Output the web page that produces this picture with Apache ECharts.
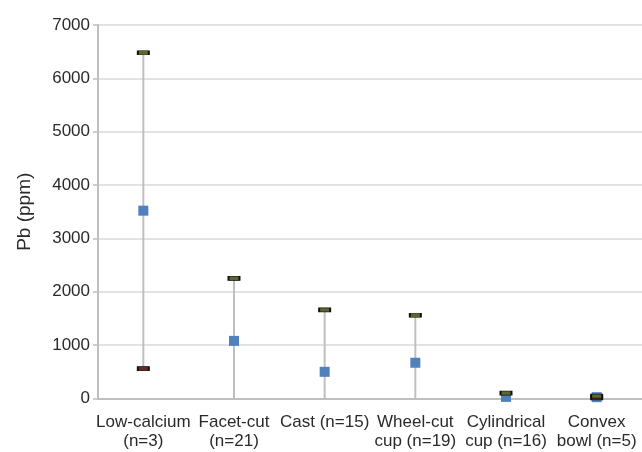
<!DOCTYPE html>
<html><head><meta charset="utf-8">
<script src="https://cdn.jsdelivr.net/npm/echarts@6/dist/echarts.min.js"></script>
<style>html,body{margin:0;padding:0;background:#fff}#c{width:642px;height:452px}</style>
</head><body><div id="c"></div>
<script>
const categories = ['Low-calcium\n(n=3)', 'Facet-cut\n(n=21)', 'Cast (n=15)', 'Wheel-cut\ncup (n=19)', 'Cylindrical\ncup (n=16)', 'Convex\nbowl (n=5)'];
const maxVals = [6480, 2250, 1660, 1560, 100, 45];
const meanVals = [3520, 1080, 500, 670, 30, 25];
const minVals = [560, null, null, null, null, 10];
const yTicks = [0, 1000, 2000, 3000, 4000, 5000, 6000, 7000];

const FONT = '"Liberation Sans", Arial, sans-serif';
const chart = echarts.init(document.getElementById('c'));
chart.setOption({
  animation: false,
  grid: { left: 98, right: -2.4, top: 25, bottom: 53.5 },
  xAxis: {
    type: 'category', data: categories,
    axisLine: { lineStyle: { color: '#bfbfbf', width: 2 } },
    axisTick: { show: false },
    axisLabel: { color: '#2a2a2a', fontFamily: FONT, fontSize: 17, lineHeight: 19, margin: 14, interval: 0 }
  },
  yAxis: {
    type: 'value', min: yTicks[0], max: yTicks[yTicks.length - 1], interval: 1000,
    name: 'Pb (ppm)', nameLocation: 'middle', nameGap: 64,
    nameTextStyle: { color: '#2a2a2a', fontFamily: FONT, fontSize: 19 },
    axisLine: { show: true, lineStyle: { color: '#bfbfbf', width: 2 } },
    axisTick: { show: true, length: 5, lineStyle: { color: '#bfbfbf', width: 1.5 } },
    axisLabel: { color: '#2a2a2a', fontFamily: FONT, fontSize: 17, margin: 8, formatter: v => String(v) },
    splitLine: { lineStyle: { color: '#d9d9d9', width: 1.5 } }
  },
  series: [
    {
      type: 'custom', z: 1,
      renderItem: function (params, api) {
        const i = api.value(0);
        const lo = minVals[i] == null ? 0 : minVals[i];
        const p1 = api.coord([i, lo]);
        const p2 = api.coord([i, maxVals[i]]);
        return { type: 'line', shape: { x1: p1[0], y1: p1[1], x2: p2[0], y2: p2[1] },
                 style: { stroke: '#bfbfbf', lineWidth: 2 } };
      },
      data: categories.map((c, i) => [i])
    },
    {
      type: 'scatter', z: 3, symbol: 'rect', symbolSize: 10,
      itemStyle: { color: '#4f81bd', opacity: 1 },
      data: meanVals
    },
    {
      type: 'scatter', z: 4, symbol: 'rect', symbolSize: [11, 4],
      itemStyle: { color: '#6a2a2a', borderColor: '#111', borderWidth: 1.2, opacity: 1 },
      data: minVals
    },
    {
      type: 'scatter', z: 5, symbol: 'rect', symbolSize: [11, 4],
      itemStyle: { color: '#5a6a2a', borderColor: '#111', borderWidth: 1.2, opacity: 1 },
      data: maxVals
    }
  ]
});
</script></body></html>
